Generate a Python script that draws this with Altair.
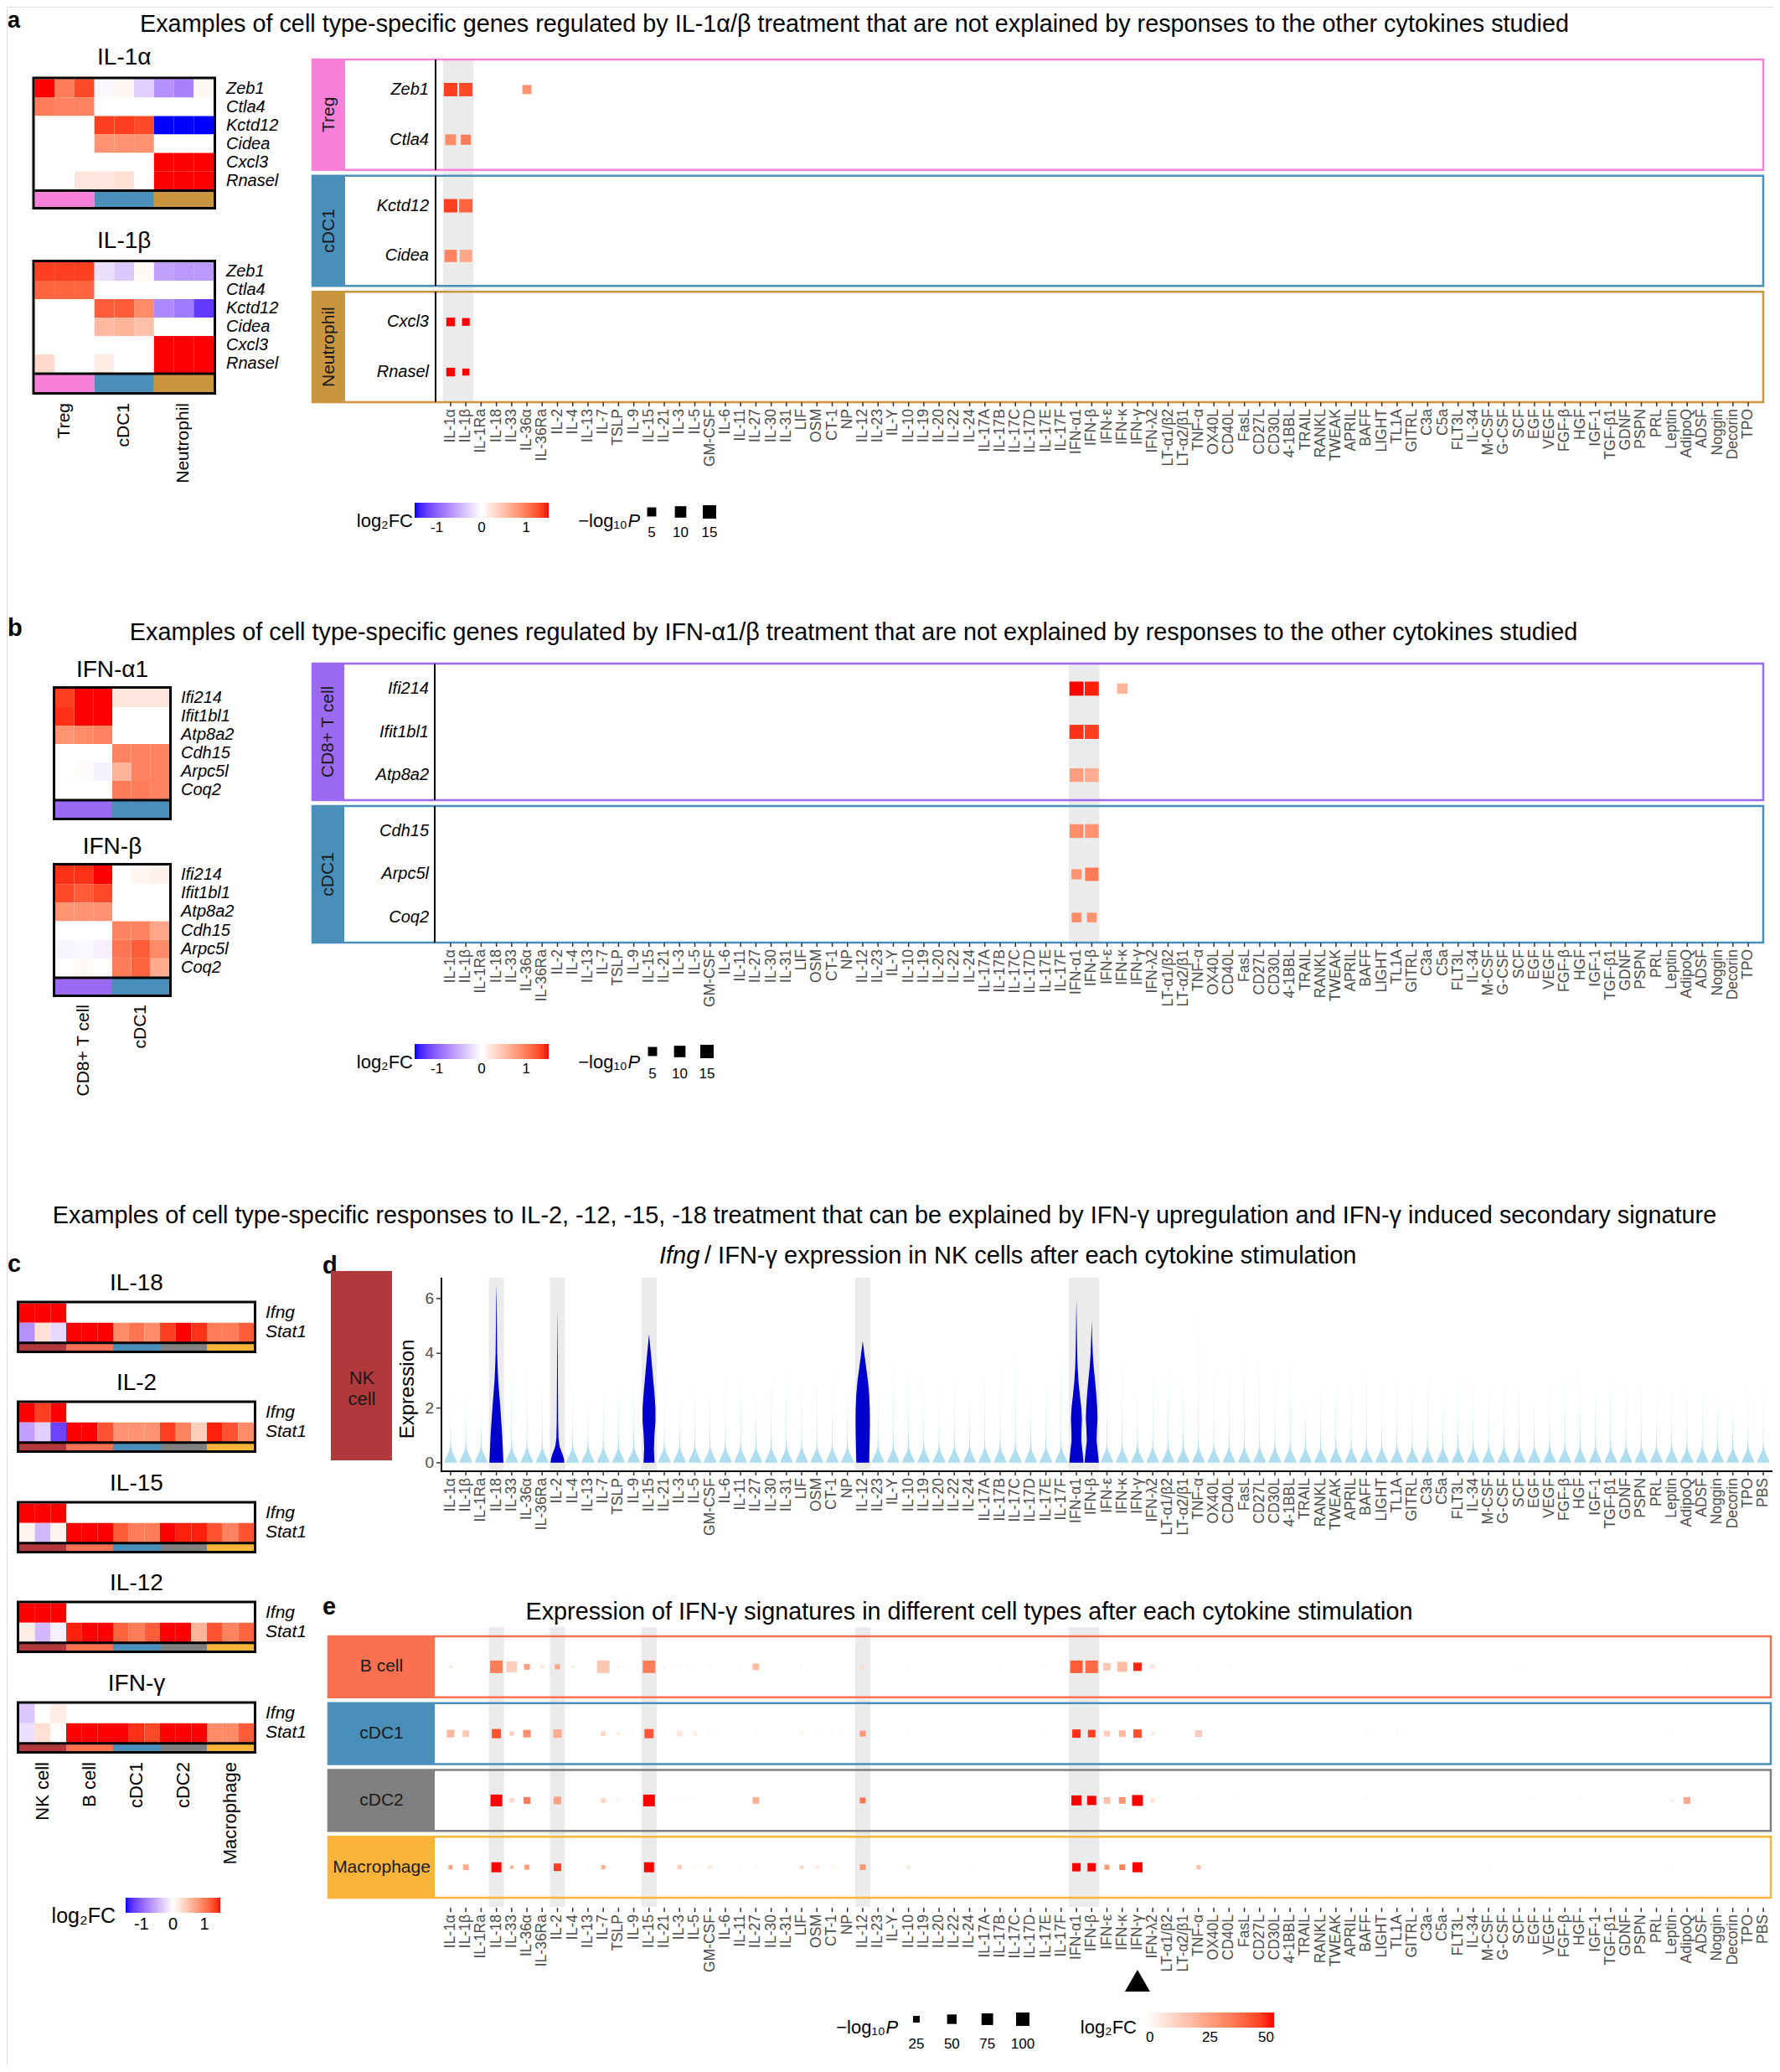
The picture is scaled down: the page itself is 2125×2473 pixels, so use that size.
import altair as alt
import pandas as pd

FONT = "Liberation Sans"
MARGIN = 8
W, H = 2109, 2457
TICK_GRAY = "#4D4D4D"
DARK_TEXT = "#1A1A1A"
BAND_GRAY = "#EBEBEB"
DARK_BLUE = "#0000CC"
LIGHT_BLUE = "#AEDDF0"
TITLE_SIZE = 28.8

CELL_COLORS = {"Treg": "#F781D8", "cDC1": "#4A8FBA", "Neutrophil": "#C9963F",
               "CD8+ T cell": "#9C6AF2", "NK cell": "#B2393B", "B cell": "#FA7050",
               "cDC2": "#808080", "Macrophage": "#FBB43A"}

CYTO = ["IL-1α", "IL-1β", "IL-1Ra", "IL-18", "IL-33", "IL-36α", "IL-36Ra", "IL-2", "IL-4", "IL-13",
        "IL-7", "TSLP", "IL-9", "IL-15", "IL-21", "IL-3", "IL-5", "GM-CSF", "IL-6", "IL-11",
        "IL-27", "IL-30", "IL-31", "LIF", "OSM", "CT-1", "NP", "IL-12", "IL-23", "IL-Y",
        "IL-10", "IL-19", "IL-20", "IL-22", "IL-24", "IL-17A", "IL-17B", "IL-17C", "IL-17D", "IL-17E",
        "IL-17F", "IFN-α1", "IFN-β", "IFN-ε", "IFN-κ", "IFN-γ", "IFN-λ2", "LT-α1/β2", "LT-α2/β1", "TNF-α",
        "OX40L", "CD40L", "FasL", "CD27L", "CD30L", "4-1BBL", "TRAIL", "RANKL", "TWEAK", "APRIL",
        "BAFF", "LIGHT", "TL1A", "GITRL", "C3a", "C5a", "FLT3L", "IL-34", "M-CSF", "G-CSF",
        "SCF", "EGF", "VEGF", "FGF-β", "HGF", "IGF-1", "TGF-β1", "GDNF", "PSPN", "PRL",
        "Leptin", "AdipoQ", "ADSF", "Noggin", "Decorin", "TPO"]
CYTO_PBS = CYTO + ["PBS"]

# ---------------- panel a ----------------
A_GENES = ["Zeb1", "Ctla4", "Kctd12", "Cidea", "Cxcl3", "Rnasel"]
A_GROUPS = ["Treg", "cDC1", "Neutrophil"]
HM_IL1A = [[1.6, 1.0, 1.3, -0.05, 0.06, -0.3, -0.7, -0.8, 0.05],
           [1.0, 0.95, 0.95, 0, 0, 0, 0, 0, 0],
           [0, 0, 0, 1.35, 1.35, 1.3, -1.6, -1.6, -1.6],
           [0, 0, 0, 0.85, 0.85, 0.85, 0, 0, 0],
           [0, 0, 0, 0, 0, 0, 1.6, 1.6, 1.6],
           [0, 0, 0.2, 0.2, 0.25, 0, 1.6, 1.6, 1.6]]
HM_IL1B = [[1.35, 1.35, 1.35, -0.2, -0.35, 0.05, -0.6, -0.65, -0.65],
           [1.15, 1.15, 1.15, 0, 0, 0, 0, 0, 0],
           [0, 0, 0, 1.2, 1.2, 0.9, -0.75, -0.85, -1.25],
           [0, 0, 0, 0.55, 0.6, 0.5, 0, 0, 0],
           [0, 0, 0, 0, 0, 0, 1.6, 1.6, 1.6],
           [0.3, 0, 0, 0.15, 0, 0, 1.6, 1.6, 1.6]]
A_FACETS = ["Treg", "cDC1", "Neutrophil"]
A_FACET_GENES = [["Zeb1", "Ctla4"], ["Kctd12", "Cidea"], ["Cxcl3", "Rnasel"]]
A_BANDS = ["IL-1α", "IL-1β"]
A_DOTS = [("Treg", "Zeb1", "IL-1α", 15, 1.35), ("Treg", "Zeb1", "IL-1β", 15, 1.3),
          ("Treg", "Zeb1", "IL-36α", 5, 0.85),
          ("Treg", "Ctla4", "IL-1α", 8.5, 0.9), ("Treg", "Ctla4", "IL-1β", 7, 1.0),
          ("cDC1", "Kctd12", "IL-1α", 15, 1.35), ("cDC1", "Kctd12", "IL-1β", 15, 1.15),
          ("cDC1", "Cidea", "IL-1α", 12, 0.95), ("cDC1", "Cidea", "IL-1β", 12, 0.7),
          ("Neutrophil", "Cxcl3", "IL-1α", 4, 1.6), ("Neutrophil", "Cxcl3", "IL-1β", 2.5, 1.6),
          ("Neutrophil", "Rnasel", "IL-1α", 4, 1.6), ("Neutrophil", "Rnasel", "IL-1β", 1.5, 1.6)]

# ---------------- panel b ----------------
B_GENES = ["Ifi214", "Ifit1bl1", "Atp8a2", "Cdh15", "Arpc5l", "Coq2"]
B_GROUPS = ["CD8+ T cell", "cDC1"]
HM_IFNA1 = [[1.35, 1.5, 1.6, 0.2, 0.2, 0.2],
            [1.4, 1.5, 1.6, 0, 0, 0],
            [0.85, 0.9, 0.95, 0, 0, 0],
            [0, 0, 0, 0.95, 0.95, 0.95],
            [0, 0.03, -0.08, 0.6, 0.95, 0.95],
            [0, 0, 0, 1.0, 1.0, 0.95]]
HM_IFNB = [[1.4, 1.4, 1.6, 0, 0.08, 0.12],
           [1.3, 1.2, 1.3, 0, 0, 0],
           [0.85, 0.85, 0.85, 0, 0, 0],
           [0, 0, 0, 0.95, 0.95, 0.7],
           [-0.06, -0.04, -0.1, 1.05, 1.2, 0.9],
           [0, 0.05, 0.02, 1.0, 1.15, 0.65]]
B_FACETS = ["CD8+ T cell", "cDC1"]
B_FACET_GENES = [["Ifi214", "Ifit1bl1", "Atp8a2"], ["Cdh15", "Arpc5l", "Coq2"]]
B_BANDS = ["IFN-α1", "IFN-β"]
B_DOTS = [("CD8+ T cell", "Ifi214", "IFN-α1", 17, 1.5), ("CD8+ T cell", "Ifi214", "IFN-β", 17, 1.45),
          ("CD8+ T cell", "Ifi214", "IFN-κ", 8, 0.6),
          ("CD8+ T cell", "Ifit1bl1", "IFN-α1", 17, 1.4), ("CD8+ T cell", "Ifit1bl1", "IFN-β", 17, 1.35),
          ("CD8+ T cell", "Atp8a2", "IFN-α1", 16, 0.75), ("CD8+ T cell", "Atp8a2", "IFN-β", 16, 0.65),
          ("cDC1", "Cdh15", "IFN-α1", 16, 0.9), ("cDC1", "Cdh15", "IFN-β", 16, 0.85),
          ("cDC1", "Arpc5l", "IFN-α1", 7, 0.85), ("cDC1", "Arpc5l", "IFN-β", 15, 1.0),
          ("cDC1", "Coq2", "IFN-α1", 6, 0.9), ("cDC1", "Coq2", "IFN-β", 6, 0.85)]

# ---------------- panel c ----------------
C_GENES = ["Ifng", "Stat1"]
C_GROUPS = ["NK cell", "B cell", "cDC1", "cDC2", "Macrophage"]
C_TITLES = ["IL-18", "IL-2", "IL-15", "IL-12", "IFN-γ"]
HM_IL18 = [[1.6, 1.6, 1.6, 0, 0, 0, 0, 0, 0, 0, 0, 0, 0, 0, 0],
           [-0.7, 0.25, -0.25, 1.6, 1.6, 1.6, 0.9, 1.05, 0.9, 1.35, 1.6, 1.4, 1.0, 1.0, 1.2]]
HM_IL2 = [[1.6, 1.35, 1.6, 0, 0, 0, 0, 0, 0, 0, 0, 0, 0, 0, 0],
          [-0.6, -0.3, -1.2, 1.6, 1.6, 1.25, 0.85, 0.85, 0.85, 1.35, 0.95, 0.4, 1.45, 1.25, 0.9]]
HM_IL15 = [[1.6, 1.6, 1.6, 0, 0, 0, 0, 0, 0, 0, 0, 0, 0, 0, 0],
           [0.1, -0.45, 0.1, 1.6, 1.6, 1.6, 1.2, 1.0, 1.0, 1.6, 1.45, 1.45, 1.25, 0.95, 1.25]]
HM_IL12 = [[1.6, 1.6, 1.6, 0, 0, 0, 0, 0, 0, 0, 0, 0, 0, 0, 0],
           [0.15, -0.45, -0.1, 1.45, 1.6, 1.6, 1.15, 1.0, 1.2, 1.5, 1.6, 0.6, 1.25, 0.95, 1.15]]
HM_IFNG = [[-0.35, 0.02, 0.15, 0, 0, 0, 0, 0, 0, 0, 0, 0, 0, 0, 0],
           [-0.2, 0.25, 0.02, 1.6, 1.6, 1.6, 1.55, 1.4, 1.3, 1.6, 1.6, 1.6, 0.9, 0.9, 1.2]]
C_VALUES = [HM_IL18, HM_IL2, HM_IL15, HM_IL12, HM_IFNG]

# ---------------- panel d ----------------
D_HIGHLIGHT = ["IL-18", "IL-2", "IL-15", "IL-12", "IFN-α1", "IFN-β"]
VIOLIN_TOP = [2.6, 2.6, 2.1, 6.5, 3.8, 3.9, 3.1, 5.6, 3.0, 2.4,
              3.0, 2.9, 3.5, 4.7, 3.5, 2.4, 3.0, 2.6, 3.6, 3.5,
              2.9, 3.5, 3.7, 3.3, 3.2, 3.9, 3.0, 4.45, 3.0, 4.0,
              3.8, 3.4, 3.0, 3.6, 2.8, 3.6, 4.0, 4.6, 2.9, 3.3,
              4.5, 6.0, 5.2, 3.7, 4.0, 2.9, 3.5, 3.7, 3.5, 6.1,
              3.9, 3.7, 4.3, 4.0, 3.9, 4.0, 2.8, 3.1, 3.3, 3.2,
              3.8, 3.2, 3.4, 3.1, 3.4, 2.6, 3.5, 3.6, 3.1, 3.2,
              3.3, 2.4, 3.3, 3.6, 3.8, 3.0, 3.6, 3.2, 3.3, 2.9,
              3.0, 3.1, 3.0, 2.6, 2.3, 3.1, 3.2]
LIGHT_Y = [0.0, 0.1, 0.2, 0.3, 0.4, 0.5, 0.6, 1.0]
LIGHT_HW = [0.42, 0.36, 0.28, 0.19, 0.11, 0.06, 0.03, 0.012]
DARK_VIOLINS = {
    "IL-18": ([0, 0.5, 1.0, 1.5, 2.0, 2.5, 3.0, 3.5, 4.0, 5.0, 6.0, 6.5],
              [0.46, 0.42, 0.38, 0.32, 0.26, 0.19, 0.12, 0.08, 0.05, 0.03, 0.015, 0]),
    "IL-2": ([0, 0.15, 0.3, 0.45, 0.6, 0.9, 1.5, 2.5, 3.5, 4.0, 5.0, 5.6],
             [0.45, 0.42, 0.34, 0.24, 0.14, 0.07, 0.045, 0.035, 0.025, 0.02, 0.008, 0]),
    "IL-15": ([0, 0.5, 1.0, 1.5, 2.0, 2.5, 3.0, 3.5, 4.0, 4.4, 4.7],
              [0.36, 0.32, 0.35, 0.42, 0.42, 0.36, 0.28, 0.2, 0.12, 0.05, 0]),
    "IL-12": ([0, 0.5, 1.0, 1.5, 2.0, 2.5, 3.0, 3.5, 4.0, 4.45],
              [0.42, 0.44, 0.46, 0.47, 0.46, 0.42, 0.34, 0.22, 0.1, 0]),
    "IFN-α1": ([0, 0.4, 0.8, 1.2, 1.6, 2.0, 2.5, 3.0, 3.5, 4.0, 5.0, 6.0],
               [0.47, 0.4, 0.32, 0.33, 0.36, 0.32, 0.22, 0.13, 0.08, 0.05, 0.025, 0]),
    "IFN-β": ([0, 0.4, 0.8, 1.2, 1.6, 2.0, 2.5, 3.0, 3.5, 4.0, 4.6, 5.2],
              [0.47, 0.4, 0.32, 0.34, 0.38, 0.36, 0.3, 0.22, 0.13, 0.07, 0.03, 0]),
}
D_YTICKS = [0, 2, 4, 6]

# ---------------- panel e ----------------
E_FACETS = ["B cell", "cDC1", "cDC2", "Macrophage"]
E_MARK = ["IFN-γ"]
E_DOTS = [
    ("B cell", "IL-1α", 6, 6), ("B cell", "IL-18", 88, 33), ("B cell", "IL-33", 66, 13),
    ("B cell", "IL-36α", 19, 25), ("B cell", "IL-36Ra", 10, 6), ("B cell", "IL-2", 14, 24),
    ("B cell", "IL-4", 4, 5), ("B cell", "IL-7", 88, 15), ("B cell", "TSLP", 4, 4),
    ("B cell", "IL-15", 88, 33), ("B cell", "IL-21", 4, 4), ("B cell", "IL-3", 3, 3),
    ("B cell", "IL-5", 3, 3), ("B cell", "GM-CSF", 3, 3), ("B cell", "IL-11", 3, 3),
    ("B cell", "IL-27", 25, 17), ("B cell", "LIF", 3, 3), ("B cell", "IL-12", 10, 10),
    ("B cell", "IL-10", 3, 3), ("B cell", "IL-17B", 3, 3), ("B cell", "IL-17E", 4, 3),
    ("B cell", "IFN-α1", 88, 40), ("B cell", "IFN-β", 88, 37), ("B cell", "IFN-ε", 32, 15),
    ("B cell", "IFN-κ", 56, 18), ("B cell", "IFN-γ", 39, 48), ("B cell", "IFN-λ2", 14, 6),
    ("B cell", "TNF-α", 3, 3), ("B cell", "CD40L", 3, 3), ("B cell", "APRIL", 3, 3),
    ("B cell", "SCF", 3, 3), ("B cell", "AdipoQ", 3, 3),
    ("cDC1", "IL-1α", 32, 19), ("cDC1", "IL-1β", 25, 14), ("cDC1", "IL-18", 47, 42),
    ("cDC1", "IL-33", 10, 14), ("cDC1", "IL-36α", 32, 29), ("cDC1", "IL-36Ra", 3, 3),
    ("cDC1", "IL-2", 39, 22), ("cDC1", "IL-7", 14, 11), ("cDC1", "TSLP", 6, 5),
    ("cDC1", "IL-9", 3, 3), ("cDC1", "IL-15", 47, 41), ("cDC1", "IL-21", 3, 3),
    ("cDC1", "IL-3", 19, 6), ("cDC1", "IL-5", 10, 5), ("cDC1", "GM-CSF", 3, 3),
    ("cDC1", "IL-27", 3, 3), ("cDC1", "LIF", 4, 4), ("cDC1", "OSM", 4, 4), ("cDC1", "CT-1", 3, 3),
    ("cDC1", "IL-12", 19, 27), ("cDC1", "IL-10", 3, 3), ("cDC1", "IL-17E", 3, 3),
    ("cDC1", "IFN-α1", 39, 47), ("cDC1", "IFN-β", 32, 45), ("cDC1", "IFN-ε", 19, 14),
    ("cDC1", "IFN-κ", 25, 19), ("cDC1", "IFN-γ", 39, 42), ("cDC1", "IFN-λ2", 6, 6),
    ("cDC1", "TNF-α", 25, 14), ("cDC1", "BAFF", 3, 4), ("cDC1", "TL1A", 3, 4), ("cDC1", "Leptin", 3, 3),
    ("cDC2", "IL-1α", 3, 3), ("cDC2", "IL-18", 77, 50), ("cDC2", "IL-33", 10, 12),
    ("cDC2", "IL-36α", 25, 34), ("cDC2", "IL-2", 32, 25), ("cDC2", "IL-7", 14, 11),
    ("cDC2", "TSLP", 4, 4), ("cDC2", "IL-9", 3, 3), ("cDC2", "IL-15", 77, 50),
    ("cDC2", "IL-3", 3, 3), ("cDC2", "IL-5", 3, 3), ("cDC2", "IL-27", 25, 21),
    ("cDC2", "LIF", 3, 3), ("cDC2", "NP", 3, 3), ("cDC2", "IL-12", 19, 35),
    ("cDC2", "IFN-α1", 56, 50), ("cDC2", "IFN-β", 47, 50), ("cDC2", "IFN-ε", 25, 16),
    ("cDC2", "IFN-κ", 25, 27), ("cDC2", "IFN-γ", 66, 50), ("cDC2", "IFN-λ2", 10, 8),
    ("cDC2", "TNF-α", 3, 3), ("cDC2", "FasL", 3, 3), ("cDC2", "BAFF", 3, 3),
    ("cDC2", "EGF", 3, 3), ("cDC2", "HGF", 3, 3), ("cDC2", "Leptin", 6, 5), ("cDC2", "AdipoQ", 25, 23),
    ("Macrophage", "IL-1α", 10, 24), ("Macrophage", "IL-1β", 19, 22), ("Macrophage", "IL-18", 56, 50),
    ("Macrophage", "IL-33", 6, 23), ("Macrophage", "IL-36α", 14, 25), ("Macrophage", "IL-36Ra", 3, 3),
    ("Macrophage", "IL-2", 32, 45), ("Macrophage", "IL-13", 3, 3), ("Macrophage", "IL-7", 10, 21),
    ("Macrophage", "IL-15", 56, 50), ("Macrophage", "IL-3", 10, 15), ("Macrophage", "IL-5", 3, 4),
    ("Macrophage", "GM-CSF", 8, 6), ("Macrophage", "IL-11", 3, 3), ("Macrophage", "IL-27", 3, 3),
    ("Macrophage", "LIF", 8, 10), ("Macrophage", "OSM", 6, 8), ("Macrophage", "CT-1", 3, 4),
    ("Macrophage", "IL-12", 19, 27), ("Macrophage", "IL-10", 6, 8), ("Macrophage", "IL-24", 3, 3),
    ("Macrophage", "IFN-α1", 39, 50), ("Macrophage", "IFN-β", 39, 50), ("Macrophage", "IFN-ε", 14, 27),
    ("Macrophage", "IFN-κ", 19, 32), ("Macrophage", "IFN-γ", 56, 50), ("Macrophage", "TNF-α", 10, 16),
    ("Macrophage", "M-CSF", 3, 3), ("Macrophage", "Leptin", 4, 3),
]

AB_LEGEND_P = [5, 10, 15]
E_LEGEND_P = [25, 50, 75, 100]
FC_TICKS = [-1, 0, 1]
E_FC_TICKS = [0, 25, 50]


# ================= helpers =================
def X(v):
    return v - MARGIN


def Y(v):
    return v - MARGIN


def one():
    return pd.DataFrame({"k": [0]})


def text(txt, x, y, size, align="center", baseline="middle", angle=0, weight="normal",
         style="normal", color="black"):
    kw = dict(align=align, baseline=baseline, fontSize=size, font=FONT, fontWeight=weight,
              fontStyle=style, color=color)
    if angle:
        kw["angle"] = angle
    return alt.Chart(pd.DataFrame({"t": [txt]})).mark_text(**kw).encode(
        x=alt.value(X(x)), y=alt.value(Y(y)), text="t:N")


def box(x0, x1, y0, y1, color="black", width=3):
    return alt.Chart(one()).mark_rect(filled=False, stroke=color, strokeWidth=width).encode(
        x=alt.value(X(x0)), x2=alt.value(X(x1)), y=alt.value(Y(y0)), y2=alt.value(Y(y1)))


def hline(x0, x1, y, color="black", width=3):
    return alt.Chart(one()).mark_rule(color=color, strokeWidth=width).encode(
        x=alt.value(X(x0)), x2=alt.value(X(x1)), y=alt.value(Y(y)))


def vline(x, y0, y1, color="black", width=2):
    return alt.Chart(one()).mark_rule(color=color, strokeWidth=width).encode(
        x=alt.value(X(x)), y=alt.value(Y(y0)), y2=alt.value(Y(y1)))


def fc_scale():
    return alt.Scale(domain=[-1.5, 0, 1.5], range=["#0000FF", "#FFFFFF", "#FF0000"],
                     interpolate="lab", clamp=True)


def fc_e_scale():
    return alt.Scale(domain=[0, 50], range=["#FFFFFF", "#FF0000"], interpolate="lab", clamp=True)


def size_ab():
    return alt.Scale(domain=[0, 15], range=[50, 256])


def size_e():
    return alt.Scale(domain=[0, 100], range=[0, 256])


def x_ab():
    return alt.Scale(type="band", domain=CYTO, range=[X(527), X(2098)], paddingInner=0, paddingOuter=0.1)


def x_e():
    return alt.Scale(type="band", domain=CYTO_PBS, range=[X(527), X(2116)], paddingInner=0, paddingOuter=0.1)


def grad_legend(x, y, length, values, label_size=17):
    return alt.Legend(orient="none", legendX=X(x), legendY=Y(y), direction="horizontal",
                      gradientLength=length, gradientThickness=18, title=None, values=values,
                      labelFontSize=label_size, labelFont=FONT, labelColor="black",
                      gradientStrokeWidth=0, padding=0, labelOffset=4, labelOverlap=False,
                      labelExpr="replace(datum.label, '−', '-')")


def heatmap(title, genes, groups, values, x0, x1, y0, y1, b0, b1, label_x, label_size, title_y,
            legend=None):
    cols = [f"c{i}" for i in range(len(values[0]))]
    df = pd.DataFrame([{"gene": g, "col": c, "v": v}
                       for g, row in zip(genes, values) for c, v in zip(cols, row)])
    xs = alt.Scale(type="band", domain=cols, range=[X(x0), X(x1)], paddingInner=0, paddingOuter=0)
    ys = alt.Scale(type="band", domain=genes, range=[Y(y0), Y(y1)], paddingInner=0, paddingOuter=0)
    layers = [alt.Chart(df).mark_rect().encode(
        x=alt.X("col:N", scale=xs, axis=None), y=alt.Y("gene:N", scale=ys, axis=None),
        color=alt.Color("v:Q", scale=fc_scale(), legend=legend))]
    gdf = pd.DataFrame({"grp": groups, "hex": [CELL_COLORS[g] for g in groups]})
    gs = alt.Scale(type="band", domain=groups, range=[X(x0), X(x1)], paddingInner=0, paddingOuter=0)
    layers.append(alt.Chart(gdf).mark_rect().encode(
        x=alt.X("grp:N", scale=gs, axis=None), y=alt.value(Y(b0)), y2=alt.value(Y(b1)),
        color=alt.Color("hex:N", scale=None)))
    layers.append(box(x0 - 1.5, x1 + 1.5, y0 - 1.5, b1 + 1.5))
    layers.append(hline(x0, x1, (y1 + b0) / 2))
    layers.append(alt.Chart(pd.DataFrame({"gene": genes})).mark_text(
        align="left", baseline="middle", fontSize=label_size, font=FONT, fontStyle="italic",
        color="black").encode(x=alt.value(X(label_x)), y=alt.Y("gene:N", scale=ys, axis=None),
                              text="gene:N"))
    layers.append(text(title, (x0 + x1) / 2, title_y, 28))
    return layers


def group_labels(groups, x0, x1, top, size):
    gs = alt.Scale(type="band", domain=groups, range=[X(x0), X(x1)], paddingInner=0, paddingOuter=0)
    return alt.Chart(pd.DataFrame({"grp": groups})).mark_text(
        align="right", baseline="middle", angle=270, fontSize=size, font=FONT, color="black").encode(
        x=alt.X("grp:N", scale=gs, axis=None), y=alt.value(Y(top)), text="grp:N")


def facet_ranges(r0, r1, n, p):
    step = (r1 - r0) / (n - p)
    band = step * (1 - p)
    return [(r0 + k * step, r0 + k * step + band) for k in range(n)]


def x_ticks(cytos, scale_fn, y0, y1, label_top):
    df = pd.DataFrame({"cyto": cytos})
    return [alt.Chart(df).mark_rule(color="#333333", strokeWidth=1.5).encode(
                x=alt.X("cyto:N", scale=scale_fn(), axis=None), y=alt.value(Y(y0)), y2=alt.value(Y(y1))),
            alt.Chart(df).mark_text(angle=270, align="right", baseline="middle", fontSize=17.5,
                                    font=FONT, color=TICK_GRAY).encode(
                x=alt.X("cyto:N", scale=scale_fn(), axis=None), y=alt.value(Y(label_top)), text="cyto:N")]


def size_legend(vals, x0, x1, y, label_y, size_fn):
    labs = [str(v) for v in vals]
    df = pd.DataFrame({"p": vals, "lab": labs})
    sc = alt.Scale(type="point", domain=labs, range=[X(x0), X(x1)], padding=0)
    return [alt.Chart(df).mark_square(opacity=1, color="black").encode(
                x=alt.X("lab:N", scale=sc, axis=None), y=alt.value(Y(y)),
                size=alt.Size("p:Q", scale=size_fn(), legend=None)),
            alt.Chart(df).mark_text(fontSize=17, font=FONT, color="black", baseline="middle").encode(
                x=alt.X("lab:N", scale=sc, axis=None), y=alt.value(Y(label_y)), text="lab:N")]


def dot_panel(facets, r0, r1, p, facet_genes, gpad, dots, bands, strip_x0, strip_x1, box_x1,
              axis_x, label_x, legend):
    fs = alt.Scale(type="band", domain=facets, range=[Y(r0), Y(r1)], paddingInner=p, paddingOuter=0)
    fdf = pd.DataFrame({"facet": facets, "hex": [CELL_COLORS[f] for f in facets]})
    layers = [alt.Chart(pd.DataFrame({"cyto": bands})).mark_rect(color=BAND_GRAY).encode(
        x=alt.X("cyto:N", scale=x_ab(), axis=None), y=alt.value(Y(r0)), y2=alt.value(Y(r1)))]
    layers.append(alt.Chart(fdf).mark_rect(filled=False, strokeWidth=2.5).encode(
        x=alt.value(X(strip_x0)), x2=alt.value(X(box_x1)), y=alt.Y("facet:N", scale=fs, axis=None),
        color=alt.Color("hex:N", scale=None)))
    layers.append(alt.Chart(fdf).mark_rect().encode(
        x=alt.value(X(strip_x0)), x2=alt.value(X(strip_x1)), y=alt.Y("facet:N", scale=fs, axis=None),
        color=alt.Color("hex:N", scale=None)))
    layers.append(alt.Chart(fdf).mark_text(angle=270, align="center", baseline="middle", fontSize=21,
                                           font=FONT, color=DARK_TEXT).encode(
        x=alt.value(X((strip_x0 + strip_x1) / 2)), y=alt.Y("facet:N", scale=fs, axis=None), text="facet:N"))
    layers.append(alt.Chart(fdf).mark_rect(color="black").encode(
        x=alt.value(X(axis_x - 1)), x2=alt.value(X(axis_x + 1)), y=alt.Y("facet:N", scale=fs, axis=None)))
    for k, (f, (g0, g1)) in enumerate(zip(facets, facet_ranges(r0, r1, len(facets), p))):
        genes = facet_genes[k]
        ys = alt.Scale(type="band", domain=genes, range=[Y(g0), Y(g1)], paddingInner=0, paddingOuter=gpad)
        sub = pd.DataFrame([d for d in dots if d[0] == f], columns=["facet", "gene", "cyto", "p", "fc"])
        layers.append(alt.Chart(sub).mark_square(opacity=1).encode(
            x=alt.X("cyto:N", scale=x_ab(), axis=None), y=alt.Y("gene:N", scale=ys, axis=None),
            color=alt.Color("fc:Q", scale=fc_scale(), legend=legend if k == 0 else None),
            size=alt.Size("p:Q", scale=size_ab(), legend=None)))
        layers.append(alt.Chart(pd.DataFrame({"gene": genes})).mark_text(
            align="right", baseline="middle", fontSize=20, font=FONT, fontStyle="italic",
            color="black").encode(x=alt.value(X(label_x)), y=alt.Y("gene:N", scale=ys, axis=None),
                                  text="gene:N"))
    return layers


layers = []

# ================= panel a =================
layers.append(text("a", 9, 33, 27, align="left", baseline="alphabetic", weight="bold"))
layers.append(text("Examples of cell type-specific genes regulated by IL-1α/β treatment that are not "
                   "explained by responses to the other cytokines studied", 1020, 28.5, TITLE_SIZE))
layers += heatmap("IL-1α", A_GENES, A_GROUPS, HM_IL1A, 41.5, 255, 94.5, 226.5, 228.5, 247, 270, 20, 68.5)
layers += heatmap("IL-1β", A_GENES, A_GROUPS, HM_IL1B, 41.5, 255, 313, 445, 447, 468, 270, 20, 288)
layers.append(group_labels(A_GROUPS, 41.5, 255, 481, 21))
layers += dot_panel(A_FACETS, 71, 480, 0.05, A_FACET_GENES, 0.1, A_DOTS, A_BANDS, 373, 412, 2105,
                    520, 512, grad_legend(495, 600, 160, FC_TICKS))
layers += x_ticks(CYTO, x_ab, 480, 485, 488)
layers.append(text("log₂FC", 493, 622, 22, align="right"))
layers.append(text("−log₁₀", 749, 622, 22, align="right"))
layers.append(text("P", 749.5, 622, 22, align="left", style="italic"))
layers += size_legend(AB_LEGEND_P, 778, 847, 611, 636, size_ab)

# ================= panel b =================
layers.append(text("b", 9, 759, 29, align="left", baseline="alphabetic", weight="bold"))
layers.append(text("Examples of cell type-specific genes regulated by IFN-α1/β treatment that are not "
                   "explained by responses to the other cytokines studied", 1019, 755, TITLE_SIZE))
layers += heatmap("IFN-α1", B_GENES, B_GROUPS, HM_IFNA1, 66, 202, 822, 954, 956, 976, 216, 20, 800)
layers += heatmap("IFN-β", B_GENES, B_GROUPS, HM_IFNB, 66, 202, 1033, 1166, 1168, 1187, 216, 20, 1011)
layers.append(group_labels(B_GROUPS, 66, 202, 1199, 21))
layers += dot_panel(B_FACETS, 792, 1125, 0.041, B_FACET_GENES, 0.08, B_DOTS, B_BANDS, 373, 411, 2105,
                    519, 512, grad_legend(495, 1246, 160, FC_TICKS))
layers += x_ticks(CYTO, x_ab, 1125, 1130, 1133)
layers.append(text("log₂FC", 493, 1268, 22, align="right"))
layers.append(text("−log₁₀", 749, 1268, 22, align="right"))
layers.append(text("P", 749.5, 1268, 22, align="left", style="italic"))
layers += size_legend(AB_LEGEND_P, 779, 844, 1255, 1282, size_ab)

# ================= panel c =================
layers.append(text("Examples of cell type-specific responses to IL-2, -12, -15, -18 treatment that can be "
                   "explained by IFN-γ upregulation and IFN-γ induced secondary signature", 1056, 1451, TITLE_SIZE))
layers.append(text("c", 9, 1518, 29, align="left", baseline="alphabetic", weight="bold"))
for k, (t_top, title, vals) in enumerate(zip([1553, 1672, 1792, 1911, 2031], C_TITLES, C_VALUES)):
    leg = grad_legend(150, 2265, 113, FC_TICKS, label_size=20) if k == 0 else None
    layers += heatmap(title, C_GENES, C_GROUPS, vals, 23, 303, t_top + 2.5, t_top + 49,
                      t_top + 50.5, t_top + 59, 317, 21, t_top - 21, legend=leg)
layers.append(group_labels(C_GROUPS, 23, 303, 2103, 22))
layers.append(text("log₂FC", 138, 2287, 25, align="right"))

# ================= panel d =================
layers.append(text("d", 385, 1520, 29, align="left", baseline="alphabetic", weight="bold"))
layers.append(text("Ifng", 787, 1499, 29, align="left", style="italic"))
layers.append(text("/ IFN-γ expression in NK cells after each cytokine stimulation", 841, 1499, 29,
                   align="left"))
layers.append(alt.Chart(pd.DataFrame({"cell": ["NK cell"], "hex": [CELL_COLORS["NK cell"]]})).mark_rect().encode(
    x=alt.value(X(395)), x2=alt.value(X(468)), y=alt.value(Y(1517)), y2=alt.value(Y(1743)),
    color=alt.Color("hex:N", scale=None)))
layers.append(text("NK", 432, 1645, 22, color=DARK_TEXT))
layers.append(text("cell", 432, 1670, 22, color=DARK_TEXT))

XQ = dict(domain=[-0.6, 86.6], range=[X(527), X(2116)], zero=False, nice=False)
YQ = dict(domain=[-0.31, 6.76], range=[Y(1756), Y(1525)], zero=False, nice=False)
band_rows = [{"xl": CYTO_PBS.index(c) - 0.5, "xr": CYTO_PBS.index(c) + 0.5} for c in D_HIGHLIGHT]
layers.append(alt.Chart(pd.DataFrame(band_rows)).mark_rect(color=BAND_GRAY).encode(
    x=alt.X("xl:Q", scale=alt.Scale(**XQ), axis=None), x2="xr:Q",
    y=alt.value(Y(1525)), y2=alt.value(Y(1756))))
vrows = []
for i, (name, top) in enumerate(zip(CYTO_PBS, VIOLIN_TOP)):
    if name in DARK_VIOLINS:
        ys_, hws_ = DARK_VIOLINS[name]
        hexc = DARK_BLUE
    else:
        ys_, hws_ = LIGHT_Y + [top], LIGHT_HW + [0.0]
        hexc = LIGHT_BLUE
    for yv, hw in zip(ys_, hws_):
        vrows.append({"cyto": name, "yv": yv, "xl": i - hw, "xr": i + hw, "hex": hexc})
layers.append(alt.Chart(pd.DataFrame(vrows)).mark_area(orient="horizontal", strokeWidth=0).encode(
    y=alt.Y("yv:Q", scale=alt.Scale(**YQ), axis=None),
    x=alt.X("xl:Q", scale=alt.Scale(**XQ), axis=None, stack=None), x2="xr:Q",
    detail="cyto:N", color=alt.Color("hex:N", scale=None)))
layers.append(vline(527, 1525, 1757, width=2))
layers.append(hline(527, 2116, 1756, width=2))
ydf = pd.DataFrame({"v": D_YTICKS})
layers.append(alt.Chart(ydf).mark_rule(color="#333333", strokeWidth=1.5).encode(
    y=alt.Y("v:Q", scale=alt.Scale(**YQ), axis=None), x=alt.value(X(521)), x2=alt.value(X(527))))
layers.append(alt.Chart(ydf).mark_text(align="right", baseline="middle", fontSize=19, font=FONT,
                                       color=TICK_GRAY).encode(
    y=alt.Y("v:Q", scale=alt.Scale(**YQ), axis=None), x=alt.value(X(518)), text="v:Q"))
layers.append(text("Expression", 487, 1658, 24, angle=270))
xdf = pd.DataFrame({"cyto": CYTO_PBS, "i": list(range(len(CYTO_PBS)))})
layers.append(alt.Chart(xdf).mark_rule(color="#333333", strokeWidth=1.5).encode(
    x=alt.X("i:Q", scale=alt.Scale(**XQ), axis=None), y=alt.value(Y(1756)), y2=alt.value(Y(1761))))
layers.append(alt.Chart(xdf).mark_text(angle=270, align="right", baseline="middle", fontSize=17.5,
                                       font=FONT, color=TICK_GRAY).encode(
    x=alt.X("i:Q", scale=alt.Scale(**XQ), axis=None), y=alt.value(Y(1764)), text="cyto:N"))

# ================= panel e =================
layers.append(text("e", 385, 1927, 29, align="left", baseline="alphabetic", weight="bold"))
layers.append(text("Expression of IFN-γ signatures in different cell types after each cytokine stimulation",
                   1157, 1924, TITLE_SIZE))
E_P = 0.088
efs = alt.Scale(type="band", domain=E_FACETS, range=[Y(1953), Y(2265)], paddingInner=E_P, paddingOuter=0)
edf = pd.DataFrame({"facet": E_FACETS, "hex": [CELL_COLORS[f] for f in E_FACETS]})
layers.append(alt.Chart(pd.DataFrame({"cyto": D_HIGHLIGHT})).mark_rect(color=BAND_GRAY).encode(
    x=alt.X("cyto:N", scale=x_e(), axis=None), y=alt.value(Y(1942)), y2=alt.value(Y(2276))))
layers.append(alt.Chart(edf).mark_rect(filled=False, strokeWidth=2.5).encode(
    x=alt.value(X(392)), x2=alt.value(X(2114)), y=alt.Y("facet:N", scale=efs, axis=None),
    color=alt.Color("hex:N", scale=None)))
layers.append(alt.Chart(edf).mark_rect().encode(
    x=alt.value(X(392)), x2=alt.value(X(519)), y=alt.Y("facet:N", scale=efs, axis=None),
    color=alt.Color("hex:N", scale=None)))
layers.append(alt.Chart(edf).mark_text(align="center", baseline="middle", fontSize=21, font=FONT,
                                       color=DARK_TEXT).encode(
    x=alt.value(X(455.5)), y=alt.Y("facet:N", scale=efs, axis=None), text="facet:N"))
layers.append(alt.Chart(pd.DataFrame(E_DOTS, columns=["facet", "cyto", "p", "fc"])).mark_square(opacity=1).encode(
    x=alt.X("cyto:N", scale=x_e(), axis=None), y=alt.Y("facet:N", scale=efs, axis=None),
    color=alt.Color("fc:Q", scale=fc_e_scale(), legend=grad_legend(1368, 2402, 153, E_FC_TICKS)),
    size=alt.Size("p:Q", scale=size_e(), legend=None)))
layers += x_ticks(CYTO_PBS, x_e, 2277, 2282, 2285)
layers.append(alt.Chart(pd.DataFrame({"cyto": E_MARK})).mark_point(
    shape="triangle-up", filled=True, color="black", size=900, opacity=1).encode(
    x=alt.X("cyto:N", scale=x_e(), axis=None), y=alt.value(Y(2364))))
layers.append(text("−log₁₀", 1057, 2420, 22, align="right"))
layers.append(text("P", 1057.5, 2420, 22, align="left", style="italic"))
layers += size_legend(E_LEGEND_P, 1094, 1221, 2410, 2440, size_e)
layers.append(text("log₂FC", 1357, 2420, 22, align="right"))

chart = alt.layer(*layers).properties(
    width=W, height=H, padding=0, autosize=alt.AutoSizeParams(type="none")
).resolve_scale(
    x="independent", y="independent", color="independent", size="independent"
).resolve_legend(color="independent", size="independent").configure_view(stroke=None).configure(font=FONT)

chart.save("out.html", embed_options={"renderer": "svg", "actions": False})
